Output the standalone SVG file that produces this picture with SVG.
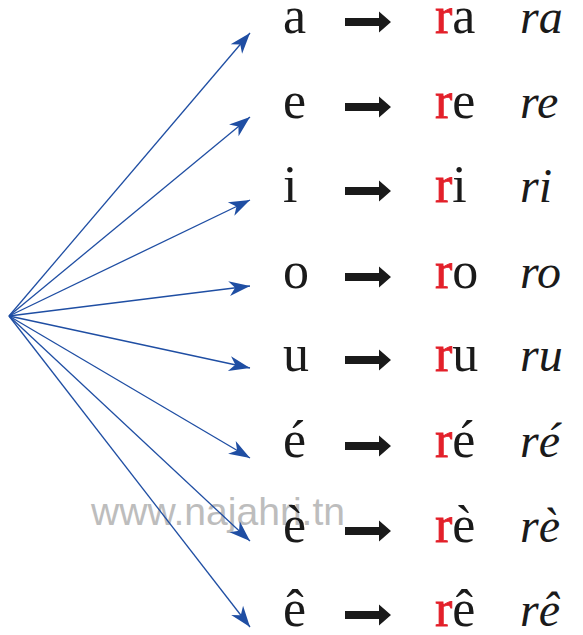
<svg xmlns="http://www.w3.org/2000/svg" width="583" height="635" viewBox="0 0 583 635">
<style>
.l{font-size:52px;fill:#1a1a1a}
.r{fill:#e3202a;stroke:#e3202a;stroke-width:0.8}
.c{font-style:italic;font-size:48px;fill:#1a1a1a}
.wm{font-size:39px;fill:#bdbdbd}
.cn line{stroke:#1f4ea3;stroke-width:1.3;marker-end:url(#ah)}
</style>
<defs>
<marker id="ah" markerUnits="userSpaceOnUse" markerWidth="24" markerHeight="18" viewBox="-22 -9 24 18" refX="0" refY="0" orient="auto">
<path d="M0,0 L-21,-7.5 L-15,0 L-21,7.5 Z" fill="#1f4ea3"/>
</marker>
<path id="ba" d="M345,-4 H379 V-10.5 L391,0 L379,10.5 V4 H345 Z" fill="#1a1a1a"/>
</defs>
<rect width="583" height="635" fill="#fff"/>
<text class="wm" font-family="Liberation Sans, sans-serif" x="91" y="525" textLength="254" lengthAdjust="spacingAndGlyphs">www.najahri.tn</text>
<g class="cn" id="connectors">
<line x1="9" y1="316" x2="250" y2="33"/>
<line x1="9" y1="316" x2="250" y2="117"/>
<line x1="9" y1="316" x2="250" y2="200"/>
<line x1="9" y1="316" x2="250" y2="286"/>
<line x1="9" y1="316" x2="250" y2="368"/>
<line x1="9" y1="316" x2="250" y2="458"/>
<line x1="9" y1="316" x2="250" y2="541"/>
<line x1="9" y1="316" x2="250" y2="627"/>
</g>
<g font-family="Liberation Serif, serif">
<g id="row-a"><text class="l" x="283" y="33">a</text><use href="#ba" y="22"/><text class="l" x="435" y="33"><tspan class="r">r</tspan>a</text><text class="c" x="520" y="33">ra</text></g>
<g id="row-e"><text class="l" x="283" y="118">e</text><use href="#ba" y="107"/><text class="l" x="435" y="118"><tspan class="r">r</tspan>e</text><text class="c" x="520" y="118">re</text></g>
<g id="row-i"><text class="l" x="283" y="202">i</text><use href="#ba" y="191"/><text class="l" x="435" y="202"><tspan class="r">r</tspan>i</text><text class="c" x="520" y="202">ri</text></g>
<g id="row-o"><text class="l" x="283" y="288">o</text><use href="#ba" y="277"/><text class="l" x="435" y="288"><tspan class="r">r</tspan>o</text><text class="c" x="520" y="288">ro</text></g>
<g id="row-u"><text class="l" x="283" y="371">u</text><use href="#ba" y="360"/><text class="l" x="435" y="371"><tspan class="r">r</tspan>u</text><text class="c" x="520" y="371">ru</text></g>
<g id="row-e-acute"><text class="l" x="283" y="457">é</text><use href="#ba" y="446"/><text class="l" x="435" y="457"><tspan class="r">r</tspan>é</text><text class="c" x="520" y="457">ré</text></g>
<g id="row-e-grave"><text class="l" x="283" y="542">è</text><use href="#ba" y="531"/><text class="l" x="435" y="542"><tspan class="r">r</tspan>è</text><text class="c" x="520" y="542">rè</text></g>
<g id="row-e-circ"><text class="l" x="283" y="626">ê</text><use href="#ba" y="615"/><text class="l" x="435" y="626"><tspan class="r">r</tspan>ê</text><text class="c" x="520" y="626">rê</text></g>
</g>
</svg>
